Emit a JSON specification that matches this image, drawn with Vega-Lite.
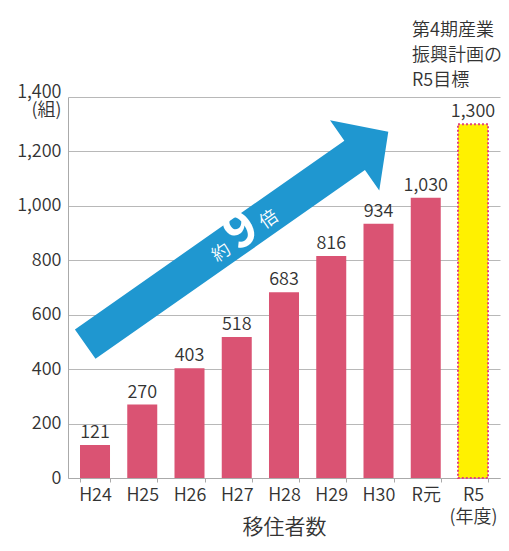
{
  "$schema": "https://vega.github.io/schema/vega-lite/v6.json",
  "width": 432,
  "height": 381,
  "padding": {"left": 16, "top": 22, "right": 5, "bottom": 5},
  "background": "#ffffff",
  "config": {
    "font": "Noto Sans CJK JP",
    "view": {"stroke": null}
  },
  "title": {
    "text": ["第4期産業", "振興計画の", "R5目標"],
    "anchor": "end",
    "align": "left",
    "dx": -88,
    "fontSize": 18,
    "fontWeight": 350,
    "color": "#333333",
    "lineHeight": 25,
    "offset": -7
  },
  "datasets": {
    "bars": [
      {"year": "H24", "value": 121, "kind": "実績"},
      {"year": "H25", "value": 270, "kind": "実績"},
      {"year": "H26", "value": 403, "kind": "実績"},
      {"year": "H27", "value": 518, "kind": "実績"},
      {"year": "H28", "value": 683, "kind": "実績"},
      {"year": "H29", "value": 816, "kind": "実績"},
      {"year": "H30", "value": 934, "kind": "実績"},
      {"year": "R元", "value": 1030, "kind": "実績"},
      {"year": "R5", "value": 1300, "kind": "目標"}
    ],
    "arrow": [
      {"year": "H27", "value": 882}
    ]
  },
  "encoding": {
    "x": {
      "field": "year",
      "type": "ordinal",
      "sort": null,
      "scale": {"paddingInner": 0.365, "paddingOuter": 0.254},
      "axis": {
        "title": "移住者数",
        "titleFontSize": 21,
        "titleFontWeight": 350,
        "titleColor": "#333333",
        "titleBaseline": "middle",
        "titleY": 49,
        "labelAngle": 0,
        "labelFontSize": 18,
        "labelFontWeight": 350,
        "labelColor": "#333333",
        "labelPadding": 4,
        "labelLineHeight": 22,
        "labelExpr": "datum.value == 'R5' ? ['R5', '(年度)'] : datum.value",
        "tickBand": "extent",
        "tickColor": "#aaaaaa",
        "tickSize": 4,
        "domainColor": "#aaaaaa",
        "grid": false
      }
    },
    "y": {
      "field": "value",
      "type": "quantitative",
      "scale": {"domain": [0, 1400]},
      "axis": {
        "title": null,
        "values": [0, 200, 400, 600, 800, 1000, 1200, 1400],
        "labelExpr": "datum.value == 1400 ? ['1,400', '(組)'] : format(datum.value, ',')",
        "labelOffset": {"condition": {"test": "datum.value == 1400", "value": -5}, "value": 0},
        "labelFontSize": 18,
        "labelFontWeight": 350,
        "labelColor": "#333333",
        "labelPadding": 7,
        "labelLineHeight": 18,
        "ticks": false,
        "grid": true,
        "gridColor": "#b8b8b8",
        "domainColor": "#aaaaaa"
      }
    }
  },
  "layer": [
    {
      "data": {"name": "bars"},
      "transform": [{"filter": "datum.kind == '実績'"}],
      "mark": {"type": "bar", "color": "#DA5373"}
    },
    {
      "data": {"name": "bars"},
      "transform": [{"filter": "datum.kind == '目標'"}],
      "mark": {"type": "bar", "color": "#FFF100", "stroke": "#E2457A", "strokeWidth": 2, "strokeDash": [2, 2]}
    },
    {
      "data": {"name": "bars"},
      "mark": {"type": "text", "baseline": "bottom", "dy": -3, "fontSize": 18, "fontWeight": 350, "color": "#333333"},
      "encoding": {"text": {"field": "value", "type": "quantitative", "format": ","}}
    },
    {
      "data": {"name": "arrow"},
      "mark": {
        "type": "point",
        "shape": "M -1 -0.097 L 0.778 -0.097 L 0.778 -0.232 L 1 0 L 0.778 0.232 L 0.778 0.097 L -1 0.097 Z",
        "size": 136900,
        "angle": 325,
        "filled": true,
        "color": "#1F97D0",
        "opacity": 1,
        "strokeWidth": 0
      }
    },
    {
      "data": {"name": "arrow"},
      "mark": {"type": "text", "text": "9", "angle": 325, "fontSize": 50, "fontWeight": "bold", "color": "#ffffff", "align": "center", "baseline": "middle", "dx": 8, "dy": -3}
    },
    {
      "data": {"name": "arrow"},
      "mark": {"type": "text", "text": "約", "angle": 325, "fontSize": 18, "fontWeight": 350, "color": "#ffffff", "align": "center", "baseline": "middle", "dx": -21, "dy": 4}
    },
    {
      "data": {"name": "arrow"},
      "mark": {"type": "text", "text": "倍", "angle": 325, "fontSize": 18, "fontWeight": 350, "color": "#ffffff", "align": "center", "baseline": "middle", "dx": 37, "dy": 4}
    }
  ]
}
